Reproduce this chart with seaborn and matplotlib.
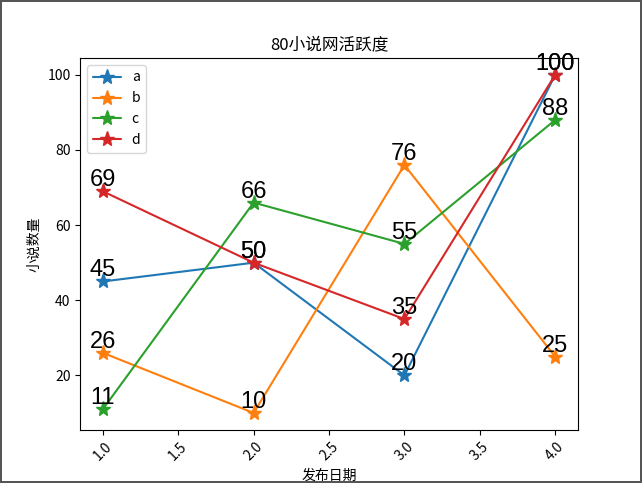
import matplotlib
matplotlib.use("Agg")
import matplotlib.pyplot as plt
import seaborn as sns
import pandas as pd

x = [1, 2, 3, 4]
a = [45, 50, 20, 100]
b = [26, 10, 76, 25]
c = [11, 66, 55, 88]
d = [69, 50, 35, 100]
names = ["a", "b", "c", "d"]
series = [a, b, c, d]

sns.set_style("ticks")
plt.rcParams['font.family'] = ['Noto Sans CJK SC', 'DejaVu Sans']
plt.rcParams['axes.unicode_minus'] = False
for k in ['text.color', 'axes.labelcolor', 'xtick.color', 'ytick.color', 'axes.edgecolor']:
    plt.rcParams[k] = 'black'

fig, ax = plt.subplots(figsize=(6.42, 4.83), dpi=100)
fig.patch.set_edgecolor('#555555')
fig.patch.set_linewidth(1.5)

colors = sns.color_palette("tab10", 4)
rows = []
for n, s in zip(names, series):
    for xi, yi in zip(x, s):
        rows.append({"x": xi, "y": yi, "s": n})
df = pd.DataFrame(rows)

for n, s, col in zip(names, series, colors):
    sub = df[df.s == n]
    sns.lineplot(data=sub, x="x", y="y", ax=ax, color=col, marker="*",
                 markersize=11, markeredgewidth=1, markeredgecolor=col,
                 label=n, sort=False)
    for xi, yi in zip(x, s):
        ax.text(xi, yi, str(yi), ha='center', va='bottom', fontsize=17,
                color='black', family=['Liberation Sans'])

ax.set_title("80小说网活跃度")
ax.set_xlabel("发布日期")
ax.set_ylabel("小说数量")
ax.legend(loc='upper left')
plt.setp(ax.get_xticklabels(), rotation=45)
for sp in ax.spines.values():
    sp.set_visible(True)
    sp.set_color('black')

fig.savefig("out.png", dpi=100, edgecolor=fig.get_edgecolor())
